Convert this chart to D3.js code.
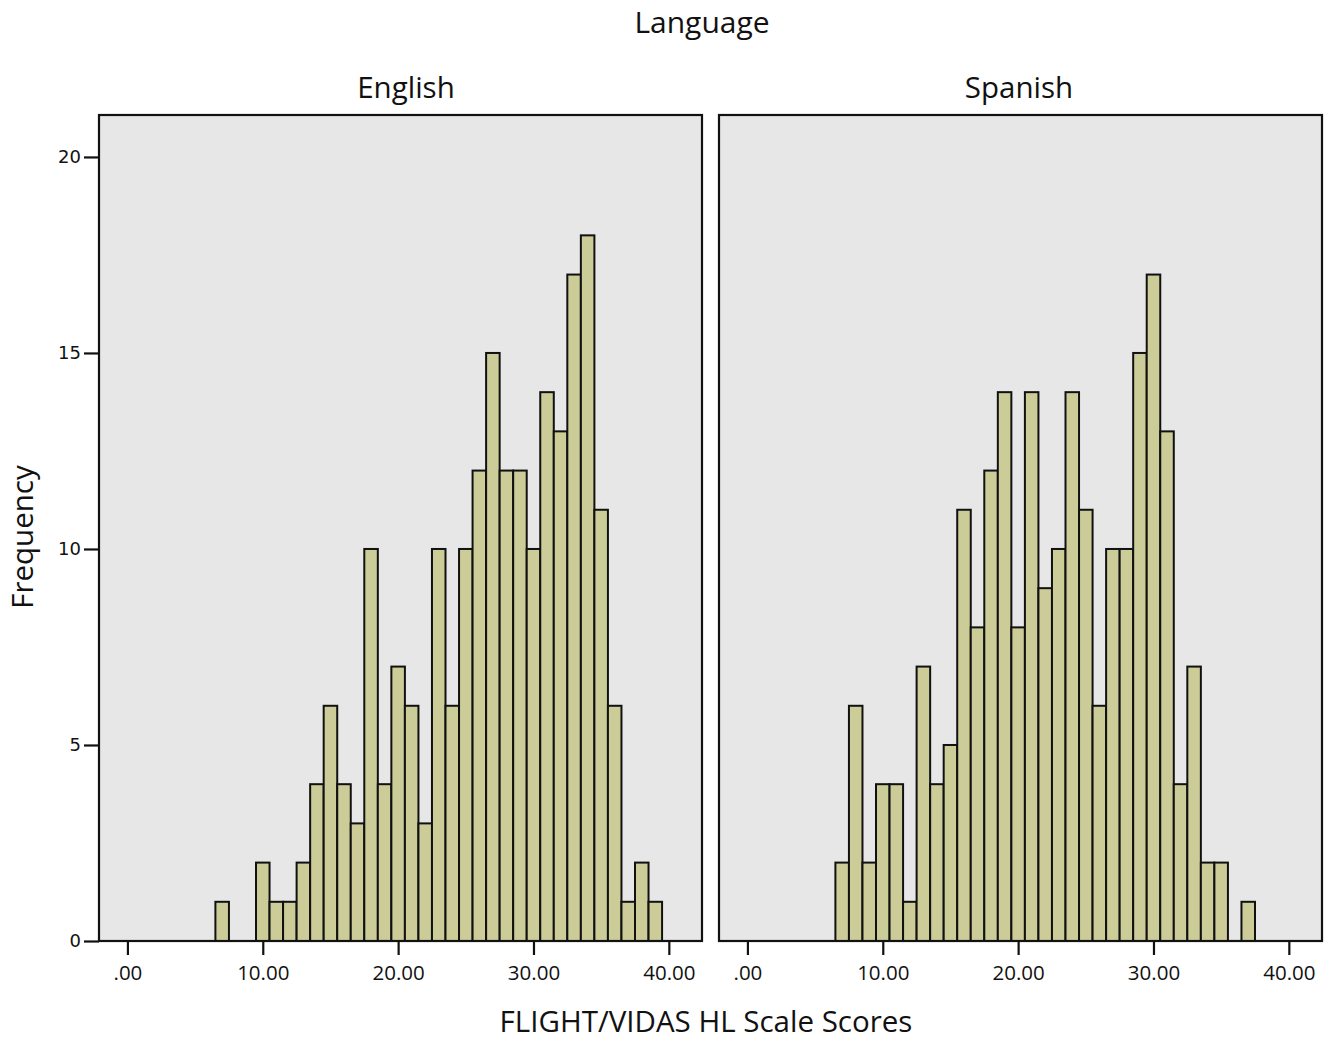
<!DOCTYPE html>
<html>
<head>
<meta charset="utf-8">
<script src="https://cdn.jsdelivr.net/npm/d3@7"></script>
<style>
  body { margin: 0; background: #fff; }
  text { font-family: "Open Sans", "Lato", sans-serif; fill: #111; }
</style>
</head>
<body>
<svg id="chart" width="1335" height="1042"></svg>
<script>
// score bins (centres), one count per bin for each language
const bins = d3.range(7, 40);
const englishCounts = [1, 0, 0, 2, 1, 1, 2, 4, 6, 4, 3, 10, 4, 7, 6, 3, 10, 6, 10, 12, 15, 12, 12, 10, 14, 13, 17, 18, 11, 6, 1, 2, 1];
const spanishCounts = [2, 6, 2, 4, 4, 1, 7, 4, 5, 11, 8, 12, 14, 8, 14, 9, 10, 14, 11, 6, 10, 10, 15, 17, 13, 4, 7, 2, 2, 0, 1, 0, 0];
const panelNames = ["English", "Spanish"];
const xTicks = [0, 10, 20, 30, 40];
const yTicks = [0, 5, 10, 15, 20];

const svg = d3.select("#chart");

// panel geometry
const panel = { top: 115, height: 826, width: 603 };
const panelLeft = [99, 719];

// scales (shared by both panels, panel-local coordinates)
const x = d3.scaleLinear().domain([-2.1, 42.45]).range([0, panel.width]);
const y = d3.scaleLinear().domain([0, 21.07]).range([panel.height, 0]);

const counts = [englishCounts, spanishCounts];

panelNames.forEach((name, p) => {
  const g = svg.append("g")
    .attr("transform", `translate(${panelLeft[p]}, ${panel.top})`);

  g.append("rect")
    .attr("width", panel.width)
    .attr("height", panel.height)
    .attr("fill", "#e6e7e6");

  const data = bins.map((b, i) => ({ bin: b, n: counts[p][i] })).filter(d => d.n > 0);

  g.selectAll("rect.bar")
    .data(data)
    .enter()
    .append("rect")
    .attr("class", "bar")
    .attr("x", d => x(d.bin - 0.5))
    .attr("width", d => x(d.bin + 0.5) - x(d.bin - 0.5))
    .attr("y", d => y(d.n))
    .attr("height", d => y(0) - y(d.n))
    .attr("fill", "#cccc99")
    .attr("stroke", "#111")
    .attr("stroke-width", 2);

  // frame
  g.append("rect")
    .attr("width", panel.width)
    .attr("height", panel.height)
    .attr("fill", "none")
    .attr("stroke", "#111")
    .attr("stroke-width", 2.2);

  // x axis
  const xaxis = d3.axisBottom(x)
    .tickValues(xTicks)
    .tickSize(14)
    .tickPadding(10)
    .tickFormat(d => d === 0 ? ".00" : d3.format(".2f")(d));
  const xg = g.append("g")
    .attr("transform", `translate(0, ${panel.height})`)
    .call(xaxis);
  xg.select(".domain").remove();
  xg.selectAll(".tick line").attr("stroke", "#111").attr("stroke-width", 2.2);
  xg.selectAll(".tick text")
    .style("font-family", "Open Sans, sans-serif")
    .style("font-size", "20.5px")
    .attr("fill", "#111");

  // panel title
  svg.append("text")
    .attr("x", panelLeft[p] + (p === 0 ? 307 : 300))
    .attr("y", 98)
    .attr("text-anchor", "middle")
    .style("font-size", "29.5px")
    .text(name);

  if (p === 0) {
    const yaxis = d3.axisLeft(y)
      .tickValues(yTicks)
      .tickSize(15)
      .tickPadding(3)
      .tickFormat(d3.format("d"));
    const yg = g.append("g").call(yaxis);
    yg.select(".domain").remove();
    yg.selectAll(".tick line").attr("stroke", "#111").attr("stroke-width", 2.2);
    yg.selectAll(".tick text")
      .style("font-family", "DejaVu Sans, sans-serif")
      .style("font-size", "18px")
      .attr("fill", "#111");
  }
});

// overall titles
svg.append("text")
  .attr("x", 702).attr("y", 33)
  .attr("text-anchor", "middle")
  .style("font-size", "30px")
  .text("Language");

svg.append("text")
  .attr("x", 706).attr("y", 1032)
  .attr("text-anchor", "middle")
  .style("font-size", "29.5px")
  .text("FLIGHT/VIDAS HL Scale Scores");

svg.append("text")
  .attr("transform", "translate(33, 537) rotate(-90)")
  .attr("text-anchor", "middle")
  .style("font-size", "29.5px")
  .text("Frequency");
</script>
</body>
</html>
